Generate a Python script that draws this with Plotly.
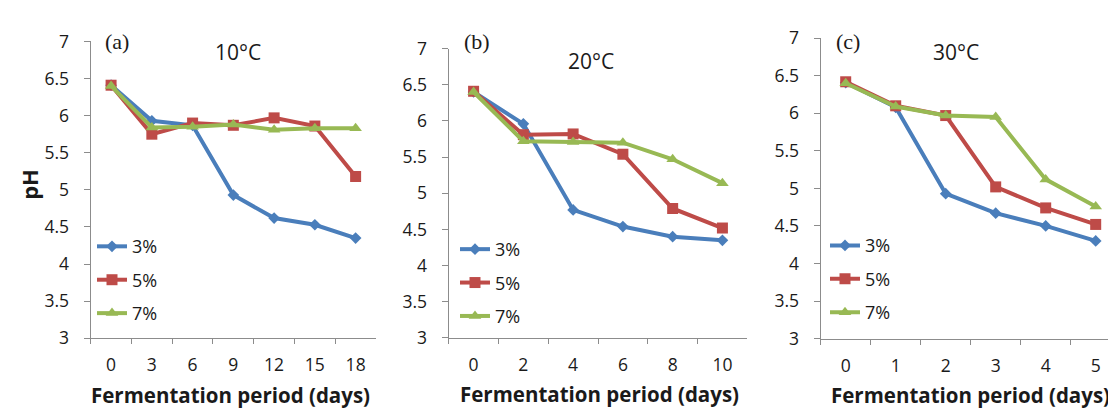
import plotly.graph_objects as go

W, H = 1116, 410

days_a = ["0", "3", "6", "9", "12", "15", "18"]
days_b = ["0", "2", "4", "6", "8", "10"]
days_c = ["0", "1", "2", "3", "4", "5"]

ph_a_3 = [6.41, 5.93, 5.87, 4.93, 4.62, 4.53, 4.35]
ph_a_5 = [6.41, 5.75, 5.90, 5.87, 5.97, 5.86, 5.18]
ph_a_7 = [6.40, 5.84, 5.85, 5.88, 5.81, 5.83, 5.83]

ph_b_3 = [6.40, 5.96, 4.77, 4.54, 4.40, 4.35]
ph_b_5 = [6.41, 5.81, 5.82, 5.54, 4.79, 4.52]
ph_b_7 = [6.40, 5.72, 5.71, 5.70, 5.47, 5.14]

ph_c_3 = [6.41, 6.08, 4.93, 4.67, 4.50, 4.30]
ph_c_5 = [6.42, 6.10, 5.97, 5.02, 4.74, 4.52]
ph_c_7 = [6.40, 6.09, 5.97, 5.95, 5.12, 4.76]

series_names = ["3%", "5%", "7%"]
panel_labels = ["(a)", "(b)", "(c)"]
panel_titles = ["10°C", "20°C", "30°C"]
y_ticks = [3, 3.5, 4, 4.5, 5, 5.5, 6, 6.5, 7]
y_ticktext = ["3", "3.5", "4", "4.5", "5", "5.5", "6", "6.5", "7"]
x_title = "Fermentation period (days)"
y_title = "pH"

colors = ["#4A7EBB", "#BE4B48", "#98B954"]
symbols = ["diamond", "square", "triangle-up"]
msizes = [9, 11, 11]

SANS = "Open Sans, DejaVu Sans, sans-serif"
SERIF = "Liberation Serif, Times New Roman, serif"
TXT = "#1a1a1a"
AX = "#8c8c8c"

# panel boxes in pixels: (left, right, top, bottom)
boxes = [(82.7, 368.0, 21.7, 337.0), (440.7, 739.3, 29.3, 336.7), (812.7, 1112.7, 18.3, 337.3)]

def px_x(v):
    return v / W

def px_y(v):
    return 1 - v / H

panels = [
    (days_a, [ph_a_3, ph_a_5, ph_a_7]),
    (days_b, [ph_b_3, ph_b_5, ph_b_7]),
    (days_c, [ph_c_3, ph_c_5, ph_c_7]),
]

fig = go.Figure()
layout = dict(
    width=W, height=H, margin=dict(l=0, r=0, t=0, b=0),
    paper_bgcolor="white", plot_bgcolor="white",
    font=dict(family=SANS, size=17, color=TXT),
    annotations=[],
)

title_pos = [(230, 33), (583, 43), (948, 33)]
label_pos = [(109, 22), (469, 22), (840, 22)]
xtitle_pos = [(222, 397), (591, 396), (962, 397)]
legend_pos = [(84, 220), (447, 223), (817, 219)]

for i, (days, vals) in enumerate(panels):
    k = "" if i == 0 else str(i + 1)
    leg = "legend" if i == 0 else f"legend{i + 1}"
    for j, (name, v) in enumerate(zip(series_names, vals)):
        fig.add_trace(go.Scatter(
            x=days, y=v, name=name, mode="lines+markers",
            xaxis="x" + k, yaxis="y" + k, legend=leg,
            legendgroup=f"p{i}s{j}",
            line=dict(color=colors[j], width=4),
            marker=dict(symbol=symbols[j], size=msizes[j], color=colors[j]),
            cliponaxis=False,
        ))
    l, r, t, b = boxes[i]
    layout["xaxis" + k] = dict(
        domain=[px_x(l), px_x(r)], anchor="y" + k, type="category",
        range=[-0.5, len(days) - 0.5], tickson="boundaries",
        ticks="outside", ticklen=5, tickcolor=AX, tickwidth=1,
        showline=True, linecolor=AX, linewidth=1.3, showgrid=False, zeroline=False,
        tickfont=dict(size=17.5, color=TXT), ticklabelstandoff=11,
    )
    layout["yaxis" + k] = dict(
        domain=[px_y(b), px_y(t)], anchor="x" + k, range=[3, 7],
        tickvals=y_ticks, ticktext=y_ticktext,
        ticks="outside", ticklen=6, tickcolor=AX, tickwidth=1,
        showline=True, linecolor=AX, linewidth=1.3, showgrid=False, zeroline=False,
        tickfont=dict(size=17.5, color=TXT), ticklabelstandoff=11,
    )
    lx, ly = legend_pos[i]
    layout[leg] = dict(
        x=px_x(lx), y=px_y(ly), xanchor="left", yanchor="top",
        bgcolor="rgba(0,0,0,0)", borderwidth=0,
        font=dict(size=18, color=TXT), traceorder="grouped", tracegroupgap=7,
        itemwidth=30,
    )
    tx, ty = title_pos[i]
    layout["annotations"].append(dict(
        x=px_x(tx), y=px_y(ty), xref="paper", yref="paper", text=panel_titles[i],
        showarrow=False, xanchor="center", yanchor="middle",
        font=dict(size=21, color=TXT, family=SANS)))
    ax_, ay_ = label_pos[i]
    layout["annotations"].append(dict(
        x=px_x(ax_), y=px_y(ay_), xref="paper", yref="paper", text=panel_labels[i],
        showarrow=False, xanchor="center", yanchor="middle",
        font=dict(size=22, color=TXT, family=SERIF)))
    xx, xy = xtitle_pos[i]
    layout["annotations"].append(dict(
        x=px_x(xx), y=px_y(xy), xref="paper", yref="paper", text="<b>" + x_title + "</b>",
        showarrow=False, xanchor="center", yanchor="middle",
        font=dict(size=20.5, color=TXT, family=SANS)))

layout["annotations"].append(dict(
    x=px_x(21), y=px_y(174), xref="paper", yref="paper", text="<b>" + y_title + "</b>",
    showarrow=False, textangle=-90, xanchor="center", yanchor="middle",
    font=dict(size=22, color=TXT, family=SANS)))

fig.update_layout(**layout)
fig.write_html("out.html")
